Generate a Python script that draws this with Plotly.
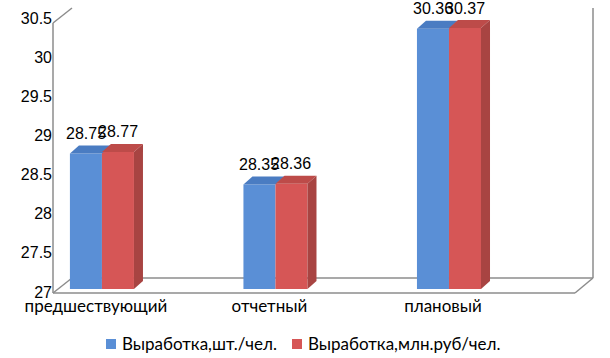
import plotly.graph_objects as go

categories = ["предшествующий", "отчетный", "плановый"]
series_names = ["Выработка,шт./чел.", "Выработка,млн.руб/чел."]
values_units = [28.75, 28.35, 30.36]
values_money = [28.77, 28.36, 30.37]
y_ticks = [27, 27.5, 28, 28.5, 29, 29.5, 30, 30.5]

front_colors = ["#5A8FD6", "#D65656"]
top_colors = ["#4A7CC2", "#BD4B49"]
side_color = "#A84442"

BARGAP = 0.631
W = (1 - BARGAP) / 2        # single bar width in category units
DX = 0.052                  # 3D depth offset (x units)
DY = 0.103                  # 3D depth offset (y units)
YMIN = 27

# layout geometry (pixels)
ML, MR, MT, MB = 53, 17, 8, 65
FIG_W, FIG_H = 610, 358
PW, PH = FIG_W - ML - MR, FIG_H - MT - MB


def px(x):
    return (x - ML) / PW


def py(y):
    return (FIG_H - MB - y) / PH


fig = go.Figure()
xs = list(range(len(categories)))
for name, vals, col in zip(series_names, [values_units, values_money], front_colors):
    fig.add_trace(go.Bar(x=xs, y=vals, name=name, marker=dict(color=col, line=dict(width=0)),
                         hoverinfo="skip", showlegend=False))

# 3D faces derived from the data values
for s, vals in enumerate([values_units, values_money]):
    for i, v in enumerate(vals):
        x0 = i - W if s == 0 else i
        x1 = x0 + W
        fig.add_trace(go.Scatter(
            x=[x0, x0 + DX, x1 + DX, x1, x0], y=[v, v + DY, v + DY, v, v],
            mode="lines", fill="toself", fillcolor=top_colors[s],
            line=dict(width=0, color=top_colors[s]), showlegend=False, hoverinfo="skip"))
        if s == 1:
            fig.add_trace(go.Scatter(
                x=[x1, x1 + DX, x1 + DX, x1, x1], y=[YMIN, YMIN + DY, v + DY, v, YMIN],
                mode="lines", fill="toself", fillcolor=side_color,
                line=dict(width=0, color=side_color), showlegend=False, hoverinfo="skip"))
        fig.add_annotation(x=x0 + W / 2, y=v, text=f"{v:.2f}", showarrow=False,
                           yshift=20, font=dict(family="Liberation Sans, Arial", size=16, color="#000"))

# walls / floor outline
wall = dict(color="#8C8C8C", width=1.5)
segs = [
    (53, 293, 53, 23),
    (53, 23, 72, 8),
    (53, 293, 72, 278),
    (72, 278, 593, 278),
    (53, 293, 575, 293),
    (575, 293, 593, 278),
    (593, 278, 593, 8),
]
for x0, y0, x1, y1 in segs:
    fig.add_shape(type="line", xref="paper", yref="paper", x0=px(x0), y0=py(y0),
                  x1=px(x1), y1=py(y1), line=wall, layer="below")

# legend (manual, to match marker/text spacing)
legend_font = dict(family="Lato, Carlito, sans-serif", size=17, color="#000")
for name, col, sx in zip(series_names, front_colors, [106, 292]):
    fig.add_shape(type="rect", xref="paper", yref="paper",
                  x0=px(sx), x1=px(sx + 10), y0=py(349), y1=py(339),
                  fillcolor=col, line=dict(width=0))
    fig.add_annotation(xref="paper", yref="paper", x=px(sx + 14), y=py(343), text=name,
                       showarrow=False, xanchor="left", yanchor="middle", font=legend_font)

tick_font = dict(family="Liberation Sans, Arial", size=16, color="#000")
fig.update_layout(
    width=FIG_W, height=FIG_H,
    margin=dict(l=ML, r=MR, t=MT, b=MB, autoexpand=False),
    paper_bgcolor="white", plot_bgcolor="rgba(0,0,0,0)",
    barmode="group", bargap=BARGAP, bargroupgap=0,
    showlegend=False,
    xaxis=dict(range=[-0.282, 2.830], tickvals=xs, ticktext=categories, automargin=False,
               showgrid=False, zeroline=False, showline=False, ticks="",
               ticklabelstandoff=5, ticklabelshift=-6,
               tickfont=dict(family="Lato, Carlito, sans-serif", size=17, color="#000")),
    yaxis=dict(range=[27, 30.5], domain=[py(289), py(18)], automargin=False,
               showticklabels=False, showgrid=False, zeroline=False, showline=False, ticks=""),
    # value axis labels drawn along the wall's front edge
    yaxis2=dict(range=[27, 30.5], domain=[py(292), py(18)], tickvals=y_ticks,
                ticktext=[f"{t:g}" for t in y_ticks], automargin=False, anchor="x",
                overlaying=None, showgrid=False, zeroline=False, showline=False, ticks="",
                tickfont=tick_font),
)
# invisible helper trace so the label axis is rendered
fig.add_trace(go.Scatter(x=[xs[0]], y=[YMIN], yaxis="y2", mode="markers",
                         marker=dict(opacity=0), showlegend=False, hoverinfo="skip"))

fig.write_html("out.html", config={"displayModeBar": False},
               post_script="document.body.style.margin='0';")
